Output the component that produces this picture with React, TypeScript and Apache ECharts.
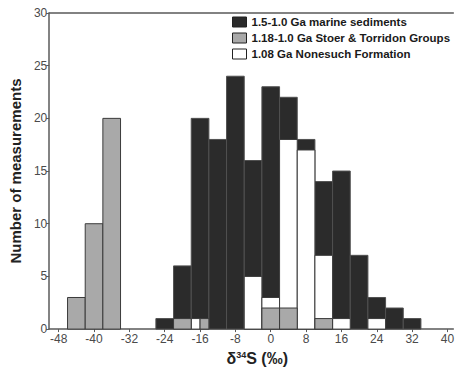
import React, { useEffect, useRef } from "react";
import * as echarts from "echarts";

// δ34S histogram, bin width 4 ‰ (bins centred on the values below)
const binWidth = 4;
const marineCenters = [-24, -20, -16, -12, -8, -4, 0, 4, 8, 12, 16, 20, 24, 28, 32];
const marineCounts = [1, 6, 20, 18, 24, 16, 23, 22, 18, 14, 15, 7, 3, 2, 1];
const stoerCenters = [-44, -40, -36, -20, -16, 0, 4, 12];
const stoerCounts = [3, 10, 20, 1, 1, 2, 2, 1];
const nonesuchCenters = [-16, -4, 0, 4, 8, 12, 16, 24];
const nonesuchCounts = [1, 5, 3, 18, 17, 7, 1, 1];
const xTicks = [-48, -40, -32, -24, -16, -8, 0, 8, 16, 24, 32, 40];

const seriesNames = [
  "1.5-1.0 Ga marine sediments",
  "1.18-1.0 Ga Stoer & Torridon Groups",
  "1.08 Ga Nonesuch Formation",
];

const styles = [
  { fill: "#2b2b2b", stroke: "#505050" },
  { fill: "#a9a9a9", stroke: "#3a3a3a" },
  { fill: "#ffffff", stroke: "#3a3a3a" },
];

// bins where Nonesuch & Stoer share equal counts are drawn side by side
function buildBins(centers: number[], counts: number[], side: "left" | "right" | null) {
  return centers.map((c, i) => {
    let lo = c - binWidth / 2;
    let hi = c + binWidth / 2;
    if (side) {
      const other = side === "left"
        ? stoerCounts[stoerCenters.indexOf(c)]
        : nonesuchCounts[nonesuchCenters.indexOf(c)];
      if (other !== undefined && other === counts[i]) {
        if (side === "left") hi = c;
        else lo = c;
      }
    }
    return [lo, hi, counts[i]];
  });
}

function makeRender(fill: string, stroke: string) {
  return (_params: any, api: any) => {
    const lo = api.value(0);
    const hi = api.value(1);
    const n = api.value(2);
    const p0 = api.coord([lo, n]);
    const p1 = api.coord([hi, 0]);
    return {
      type: "rect",
      shape: { x: p0[0], y: p0[1], width: p1[0] - p0[0], height: p1[1] - p0[1] },
      style: { fill, stroke, lineWidth: 1 },
    };
  };
}

export default function App() {
  const ref = useRef<HTMLDivElement>(null);
  useEffect(() => {
    if (!ref.current) return;
    const chart = echarts.init(ref.current, null, { renderer: "svg" });
    const axisColor = "#5a5a5a";
    const labelColor = "#4a4a4a";
    const font = "Liberation Sans, Arial, sans-serif";
    chart.setOption({
      animation: false,
      backgroundColor: "#ffffff",
      grid: { left: 42, right: 0, top: 13, bottom: 41 },
      legend: {
        orient: "vertical",
        left: 232,
        top: 16,
        padding: 0,
        itemWidth: 14,
        itemHeight: 10,
        itemGap: 4,
        selectedMode: false,
        textStyle: { fontFamily: font, fontWeight: "bold", fontSize: 11.5, color: "#1a1a1a", lineHeight: 12 },
        data: seriesNames.map((name, i) => ({
          name,
          icon: "rect",
          itemStyle: { color: styles[i].fill, borderColor: "#222", borderWidth: 1 },
        })),
      },
      xAxis: [
        {
          type: "value",
          min: -50.14,
          max: 41.33,
          splitLine: { show: false },
          axisLine: { onZero: false, lineStyle: { color: axisColor, width: 1.5 } },
          axisTick: { customValues: xTicks, length: 3, lineStyle: { color: axisColor } },
          axisLabel: { customValues: xTicks, color: labelColor, fontFamily: font, fontSize: 12, margin: 4 },
          name: "{d|δ}{s|34}{d|S (‰)}",
          nameLocation: "middle",
          nameGap: 17,
          nameTextStyle: {
            padding: [0, 0, 0, 12],
            rich: {
              d: { fontFamily: font, fontWeight: "bold", fontSize: 16, color: "#222" },
              s: { fontFamily: font, fontWeight: "bold", fontSize: 9, color: "#222", padding: [0, 0, 7, 0] },
            },
          },
        },
        {
          type: "value",
          position: "top",
          min: -50.14,
          max: 41.33,
          splitLine: { show: false },
          axisLine: { show: true, onZero: false, lineStyle: { color: axisColor, width: 1.5 } },
          axisTick: { show: false },
          axisLabel: { show: false },
        },
      ],
      yAxis: {
        type: "value",
        min: 0,
        max: 30,
        interval: 5,
        splitLine: { show: false },
        axisLine: { show: true, onZero: false, lineStyle: { color: axisColor, width: 1.5 } },
        axisTick: { show: true, length: 3, lineStyle: { color: axisColor } },
        axisLabel: { color: labelColor, fontFamily: font, fontSize: 12, margin: 2 },
        name: "Number of measurements",
        nameLocation: "middle",
        nameGap: 19,
        nameTextStyle: { fontFamily: font, fontWeight: "bold", fontSize: 15, color: "#222" },
      },
      series: [
        {
          type: "custom",
          name: seriesNames[0],
          renderItem: makeRender(styles[0].fill, styles[0].stroke),
          itemStyle: { color: styles[0].fill },
          data: buildBins(marineCenters, marineCounts, null),
          encode: { x: [0, 1], y: 2 },
          z: 1,
        },
        {
          type: "custom",
          name: seriesNames[2],
          renderItem: makeRender(styles[2].fill, styles[2].stroke),
          itemStyle: { color: styles[2].fill },
          data: buildBins(nonesuchCenters, nonesuchCounts, "left"),
          encode: { x: [0, 1], y: 2 },
          z: 2,
        },
        {
          type: "custom",
          name: seriesNames[1],
          renderItem: makeRender(styles[1].fill, styles[1].stroke),
          itemStyle: { color: styles[1].fill },
          data: buildBins(stoerCenters, stoerCounts, "right"),
          encode: { x: [0, 1], y: 2 },
          z: 3,
        },
      ],
    });
    return () => chart.dispose();
  }, []);
  return (
    <div
      ref={ref}
      style={{ position: "fixed", left: 0, top: 0, width: 457, height: 371 }}
    />
  );
}
